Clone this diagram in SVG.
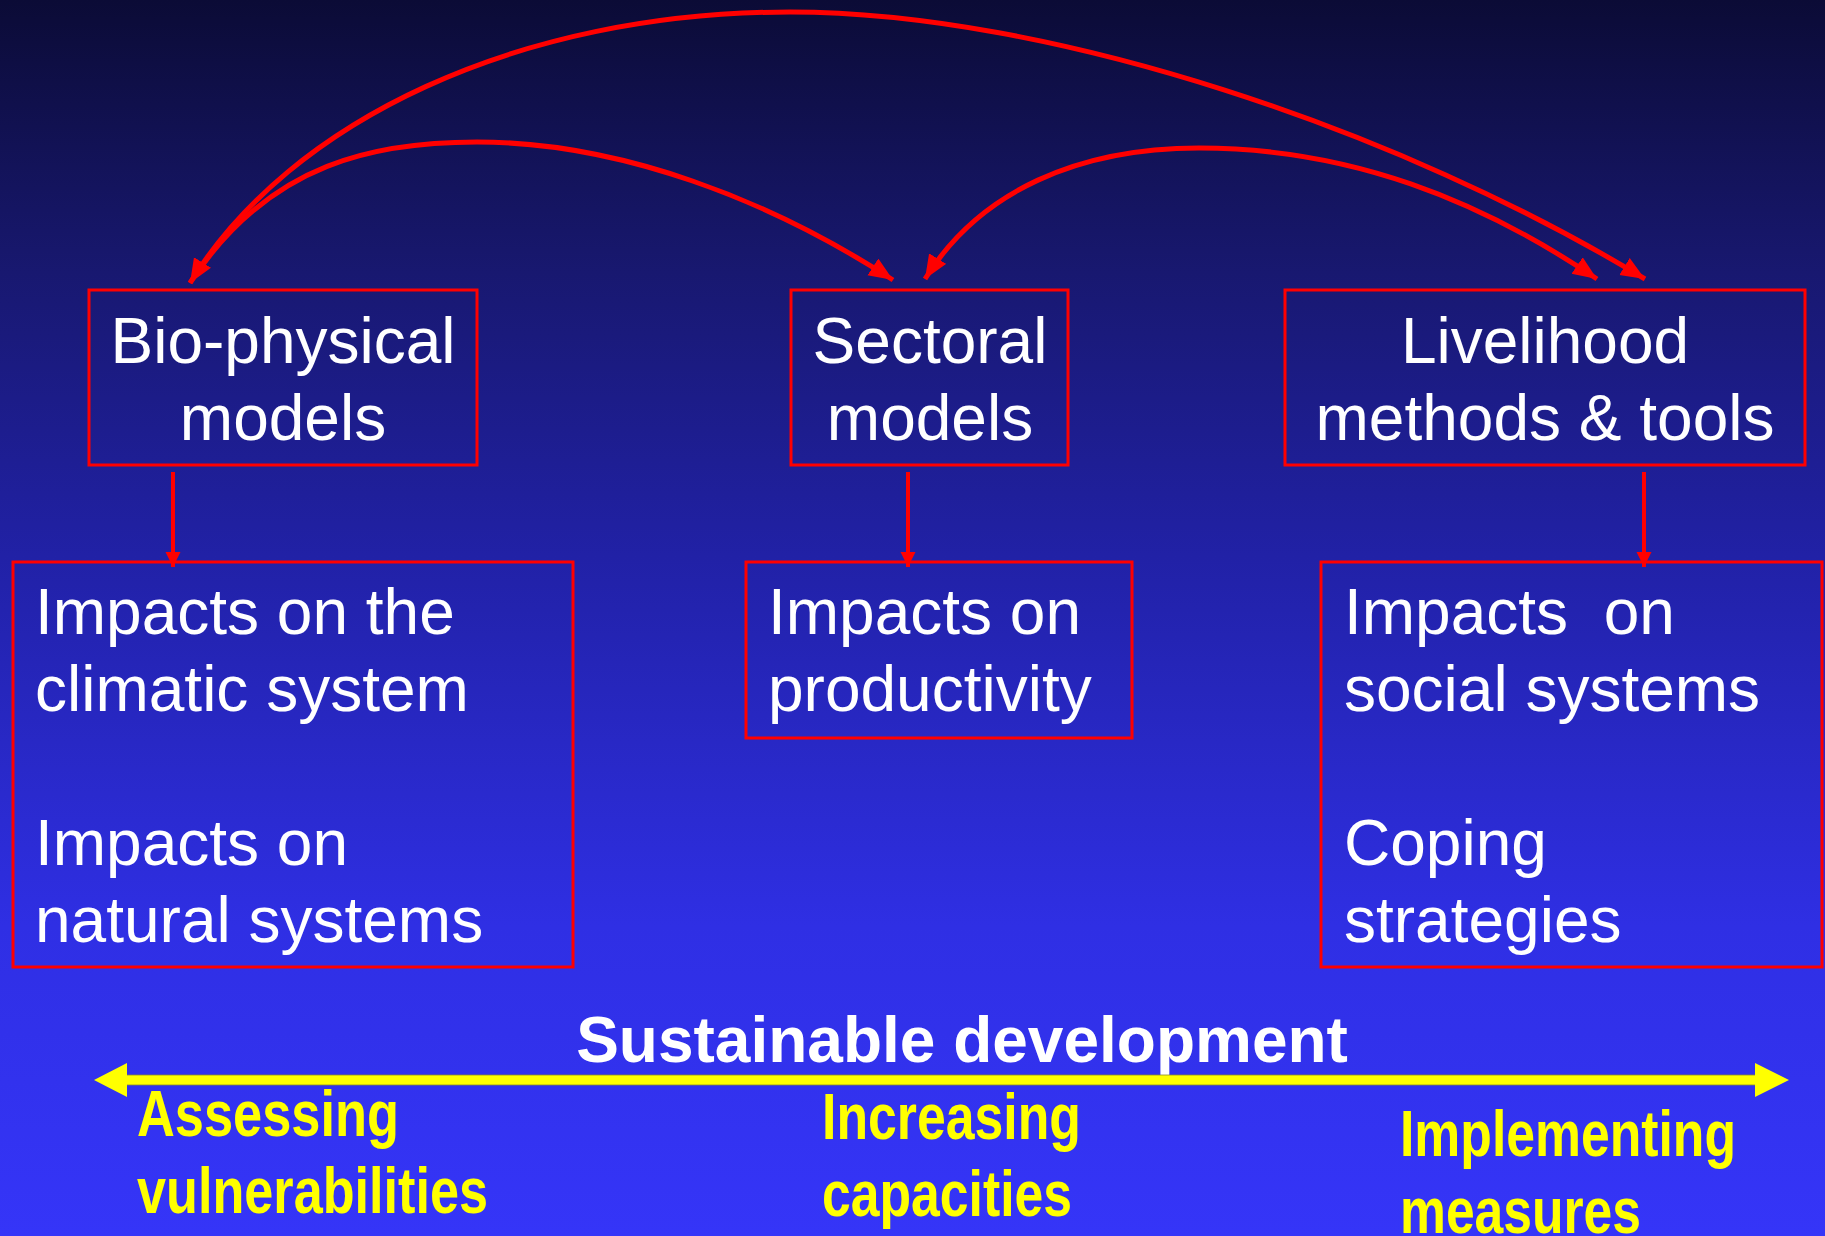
<svg xmlns="http://www.w3.org/2000/svg" width="1825" height="1236" viewBox="0 0 1825 1236">
<defs>
<linearGradient id="bg" x1="0" y1="0" x2="0" y2="1">
<stop offset="0" stop-color="#0b0b36"/>
<stop offset="0.22" stop-color="#181870"/>
<stop offset="0.45" stop-color="#2121a6"/>
<stop offset="0.75" stop-color="#2f2fe4"/>
<stop offset="1" stop-color="#3535f8"/>
</linearGradient>
<marker id="ah" markerUnits="userSpaceOnUse" markerWidth="26" markerHeight="22" refX="24" refY="10" orient="auto-start-reverse" viewBox="0 0 26 22">
<path d="M0,0 L24,10 L0,20 z" fill="#ff0000"/>
</marker>
<marker id="ahs" markerUnits="userSpaceOnUse" markerWidth="16" markerHeight="16" refX="15" refY="7.5" orient="auto" viewBox="0 0 16 16">
<path d="M0,0 L15,7.5 L0,15 z" fill="#ff0000"/>
</marker>
<style>
.box{fill:none;stroke:#ff0000;stroke-width:3}
.t{font-family:"Liberation Sans",Arial,sans-serif;font-size:64px;fill:#ffffff}
.c{text-anchor:middle}
.y{font-family:"Liberation Sans",Arial,sans-serif;font-size:64px;font-weight:bold;fill:#ffff00}
.conn{fill:none;stroke:#ff0000;stroke-width:5}
.vconn{fill:none;stroke:#ff0000;stroke-width:4}
</style>
</defs>
<rect x="0" y="0" width="1825" height="1236" fill="url(#bg)"/>

<g id="bio-physical">
<rect class="box" x="89" y="290" width="388" height="175"/>
<text class="t c" x="283" y="363">Bio-physical</text>
<text class="t c" x="283" y="440">models</text>
</g>
<g id="sectoral">
<rect class="box" x="791" y="290" width="277" height="175"/>
<text class="t c" x="930" y="363">Sectoral</text>
<text class="t c" x="930" y="440">models</text>
</g>
<g id="livelihood">
<rect class="box" x="1285" y="290" width="520" height="175"/>
<text class="t c" x="1545" y="363">Livelihood</text>
<text class="t c" x="1545" y="440">methods &amp; tools</text>
</g>
<g id="impacts-climatic">
<rect class="box" x="13" y="562" width="560" height="405"/>
<text class="t" x="35" y="634">Impacts on the</text>
<text class="t" x="35" y="711">climatic system</text>
<text class="t" x="35" y="865">Impacts on</text>
<text class="t" x="35" y="942">natural systems</text>
</g>
<g id="impacts-productivity">
<rect class="box" x="746" y="562" width="386" height="176"/>
<text class="t" x="768" y="634">Impacts on</text>
<text class="t" x="768" y="711">productivity</text>
</g>
<g id="impacts-social">
<rect class="box" x="1321" y="562" width="501" height="405"/>
<text class="t" x="1344" y="634" xml:space="preserve">Impacts  on</text>
<text class="t" x="1344" y="711">social systems</text>
<text class="t" x="1344" y="865">Coping</text>
<text class="t" x="1344" y="942">strategies</text>
</g>

<g id="connectors">
<path class="conn" marker-start="url(#ah)" marker-end="url(#ah)" d="M190,283 C290,120 520,12 790,12 C1050,12 1400,130 1645,279"/>
<path class="conn" marker-end="url(#ah)" d="M190,283 C270,160 380,142 477,142 C620,142 770,200 893,280"/>
<path class="conn" marker-start="url(#ah)" marker-end="url(#ah)" d="M925,279 C980,190 1080,148 1199,148 C1350,148 1480,200 1597,279"/>
<path class="vconn" marker-end="url(#ahs)" d="M173,472 L173,567"/>
<path class="vconn" marker-end="url(#ahs)" d="M908,472 L908,567"/>
<path class="vconn" marker-end="url(#ahs)" d="M1644,472 L1644,567"/>
</g>

<g id="sustainable-development">
<text x="962" y="1062" text-anchor="middle" font-family="Liberation Sans, Arial, sans-serif" font-size="64" font-weight="bold" fill="#ffffff">Sustainable development</text>
<rect x="126" y="1075" width="1630" height="10" fill="#ffff00" stroke="#8a8a30" stroke-width="0.8"/>
<path d="M94,1080 L127,1063 L127,1097 z" fill="#ffff00"/>
<path d="M1789,1080 L1755,1063 L1755,1097 z" fill="#ffff00"/>
</g>

<g id="labels">
<text class="y" x="137" y="1136" textLength="262" lengthAdjust="spacingAndGlyphs">Assessing</text>
<text class="y" x="137" y="1213" textLength="351" lengthAdjust="spacingAndGlyphs">vulnerabilities</text>
<text class="y" x="822" y="1139" textLength="259" lengthAdjust="spacingAndGlyphs">Increasing</text>
<text class="y" x="822" y="1216" textLength="250" lengthAdjust="spacingAndGlyphs">capacities</text>
<text class="y" x="1400" y="1156" textLength="336" lengthAdjust="spacingAndGlyphs">Implementing</text>
<text class="y" x="1400" y="1233" textLength="241" lengthAdjust="spacingAndGlyphs">measures</text>
</g>
</svg>
